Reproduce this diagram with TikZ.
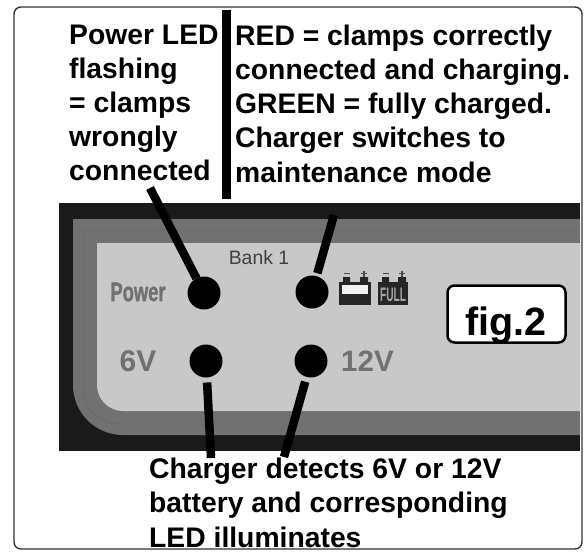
\documentclass[tikz,border=0pt]{standalone}
\usepackage{fontspec}
\setmainfont{Liberation Sans}
\usepackage{tikz}
\definecolor{panelDark}{HTML}{1A1A1A}
\definecolor{panelMid}{HTML}{717171}
\definecolor{panelEdge}{HTML}{696969}
\definecolor{panelFace}{HTML}{C8C8C8}
\definecolor{printGrey}{HTML}{717171}
\tikzset{
  note/.style={anchor=north west,align=left,inner sep=0pt,font=\fontsize{28.3}{34.2}\selectfont\bfseries},
  led/.style={circle,fill=black,minimum size=33pt,inner sep=0pt,outer sep=0pt},
  pointer/.style={line width=8.5pt,black},
  print/.style={inner sep=0pt,text=printGrey},
  cell/.style={inner sep=0pt,font=\fontsize{19.5}{19.5}\selectfont\bfseries}
}
\begin{document}
\begin{tikzpicture}[x=1pt,y=-1pt]
\useasboundingbox (0,0) rectangle (585,551);
\fill[white] (0,0) rectangle (585,551);
\fill[panelDark] (59,203) rectangle (580,451);
\fill[panelMid] (73,219) -- (580,219) -- (580,435) [rounded corners=50pt] -- (73,435) [sharp corners] -- cycle;
\draw[panelEdge,line width=0.8pt] (580,230) -- (83,230) [rounded corners=36pt] -- (83,424) [sharp corners] -- (580,424);
\fill[panelFace] (97,243) -- (580,243) -- (580,411) [rounded corners=26pt] -- (97,411) [sharp corners] -- cycle;
\draw[black!80,line width=1.4pt,rounded corners=7pt] (14,7) rectangle (582,549);

\node[print,xscale=0.68,font=\fontsize{27}{27}\selectfont\bfseries\addfontfeature{FakeBold=1.5}] (powerlabel) at (138,292) {Power};
\node[print,font=\fontsize{30}{30}\selectfont\bfseries] (sixlabel) at (138,361) {6V};
\node[print,anchor=west,font=\fontsize{29.5}{29.5}\selectfont\bfseries] (twelvelabel) at (341,361) {12V};
\node[inner sep=0pt,text=black!75,font=\fontsize{19.4}{19.4}\selectfont] (bank) at (259,258) {Bank 1};

\node[led] (powerled) at (204,293) {};
\node[led] (sixled) at (206,361) {};
\node[led] (chargeled) at (312,292) {};
\node[led] (twelveled) at (311,361) {};

\fill[black!85] (339,282) rectangle (371,305);
\fill[black!5] (342,285) rectangle (368,294);
\fill[black!85] (343,277) rectangle (350,282) (360,277) rectangle (368,282);
\draw[black!70,line width=1.2pt] (344,273.5) -- (350,273.5) (361,273.5) -- (367,273.5) (364,270.5) -- (364,276.5);
\fill[black!85] (378,282) rectangle (408,305);
\fill[black!85] (382,277) rectangle (389,282) (398,277) rectangle (406,282);
\draw[black!70,line width=1.2pt] (383,273.5) -- (389,273.5) (399,273.5) -- (405,273.5) (402,270.5) -- (402,276.5);
\node[cell,text=black!35,xscale=0.52] (fulllabel) at (393,295) {FULL};

\node[draw=black,fill=white,line width=2.5pt,rounded corners=7pt,minimum width=118pt,minimum height=57pt,inner sep=0pt] (figbox) at (506.5,314) {};
\node[anchor=base,inner sep=0pt,font=\fontsize{39.5}{39.5}\selectfont\bfseries] (figlabel) at (506,335) {fig.2};

\coordinate (dividertop) at (226.5,10);
\coordinate (dividerend) at (226.5,199);
\coordinate (powerend) at (150,188);
\coordinate (chargeend) at (334,215);
\coordinate (sixend) at (211,458);
\coordinate (twelveend) at (284,457);
\draw[pointer] (dividertop) -- (dividerend);
\draw[pointer] (powerend) -- (powerled);
\draw[pointer,shorten >=3pt] (chargeend) -- (chargeled);
\draw[pointer,shorten >=5pt] (sixend) -- (sixled);
\draw[pointer,shorten >=5pt] (twelveend) -- (twelveled);

\node[note] (powernote) at (69,24.5) {Power LED\\flashing\\= clamps\\wrongly\\connected};
\node[note] (chargenote) at (235,24.5) {RED = clamps correctly\\connected and charging.\\GREEN = fully charged.\\Charger switches to\\maintenance mode};
\node[note] (detectnote) at (149,458) {Charger detects 6V or 12V\\battery and corresponding\\LED illuminates};
\end{tikzpicture}
\end{document}
